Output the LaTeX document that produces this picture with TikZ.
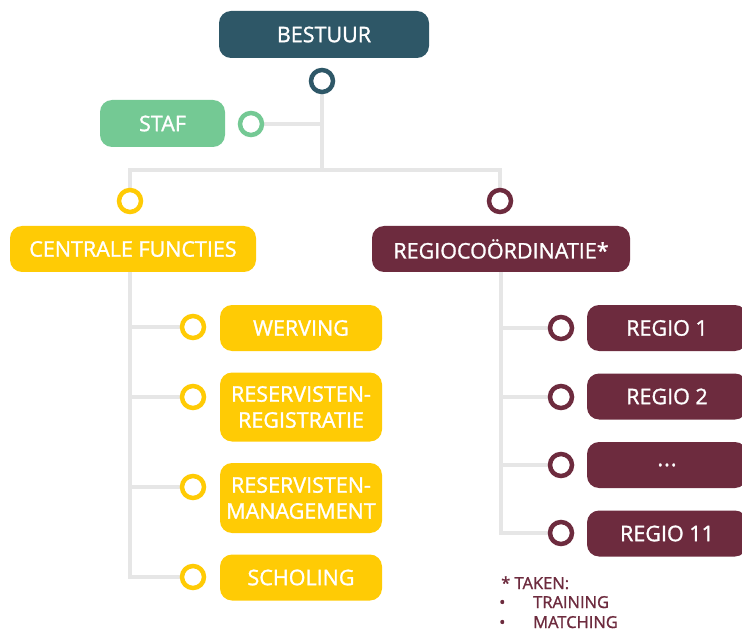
\documentclass[tikz,border=0pt]{standalone}
\usepackage{fontspec}
\setmainfont{Open Sans}
\newfontfamily\halfvet{Open Sans}[FakeBold=1.3]
\usetikzlibrary{positioning}
\usetikzlibrary{backgrounds}
\definecolor{bestuurblauw}{HTML}{2E5767}
\definecolor{stafgroen}{HTML}{74C994}
\definecolor{centraalgeel}{HTML}{FFCB05}
\definecolor{regiorood}{HTML}{6D2B3E}
\definecolor{lijngrijs}{HTML}{E6E6E6}
\tikzset{
  blok/.style={rounded corners=12, text=white, inner sep=0, align=center,
    font=\halfvet\fontsize{21.5}{26}\selectfont},
  ring/.style={circle, draw=#1, line width=4.5, fill=white, minimum size=22, inner sep=0},
  tak/.style={draw=lijngrijs, line width=4},
  voetnoot/.style={anchor=base west, inner sep=0, text=regiorood,
    font=\halfvet\fontsize{16.5}{20}\selectfont},
}
\newcommand{\puntjes}{.\kern1pt.\kern1pt.}

\begin{document}
\begin{tikzpicture} [x=1pt, y=-1pt]
\clip (0,0) rectangle (742,631);

\node[blok, fill=bestuurblauw, minimum width=210, minimum height=47] (bestuur) at (324,34.5) {BESTUUR};
\node[ring=bestuurblauw] (bestuurring) at (322,81) {};
\node[blok, fill=stafgroen, minimum width=125, minimum height=47] (staf) at (162.5,123.5) {STAF};
\node[ring=stafgroen] (stafring) at (251,124) {};
\coordinate (splits) at (322,170);

\node[ring=centraalgeel] (centraalring) at (130,201) {};
\node[ring=regiorood] (regioring) at (500,201) {};
\node[blok, fill=centraalgeel, minimum width=246, minimum height=46] (centraal) at (133,249) {CENTRALE FUNCTIES};
\node[blok, fill=regiorood, minimum width=258, minimum height=46] (regio) at (501,249) {REGIOCO\"ORDINATIE*};

% centrale functies
\foreach \naam/\yr/\yb/\h/\tekst in {werving/327/328/46/WERVING,
    registratie/397/407/69/{RESERVISTEN-\\REGISTRATIE},
    management/487/498/70/{RESERVISTEN-\\MANAGEMENT},
    scholing/577/577.5/46/SCHOLING} {
  \node[ring=centraalgeel] (\naam ring) at (193,\yr) {};
  \node[blok, fill=centraalgeel, minimum width=162, minimum height=\h] (\naam) at (301,\yb) {\tekst};
}

% regio's
\foreach \naam/\yr/\yb/\tekst in {regioeen/328/328/REGIO 1,
    regiotwee/397/396.5/REGIO 2,
    regiodrie/465/465/\puntjes,
    regioelf/533/533.5/REGIO 11} {
  \node[ring=regiorood] (\naam ring) at (561,\yr) {};
  \node[blok, fill=regiorood, minimum width=160, minimum height=46] (\naam) at (667,\yb) {\tekst};
}

\node[voetnoot] (taken) at (501,589) {* TAKEN:};
\node[voetnoot] (training) at (499,608) {\makebox[34pt][l]{•}TRAINING};
\node[voetnoot] (matching) at (499,628) {\makebox[34pt][l]{•}MATCHING};

\begin{scope}[on background layer]
\draw[tak] (bestuurring) -- (splits);
\draw[tak] (stafring) -- (stafring -| splits);
\draw[tak] (centraalring) |- (splits) -| (regioring);
\draw[tak] (centraalring |- centraal.south) -- (centraalring |- scholingring) -- (scholingring);
\foreach \naam in {werving,registratie,management}
  \draw[tak] (\naam ring) -- (\naam ring -| centraalring);
\draw[tak] (regio.south) -- (regio.south |- regioelfring) -- (regioelfring);
\foreach \naam in {regioeen,regiotwee,regiodrie}
  \draw[tak] (\naam ring) -- (\naam ring -| regio.south);
\end{scope}
\end{tikzpicture}
\end{document}
